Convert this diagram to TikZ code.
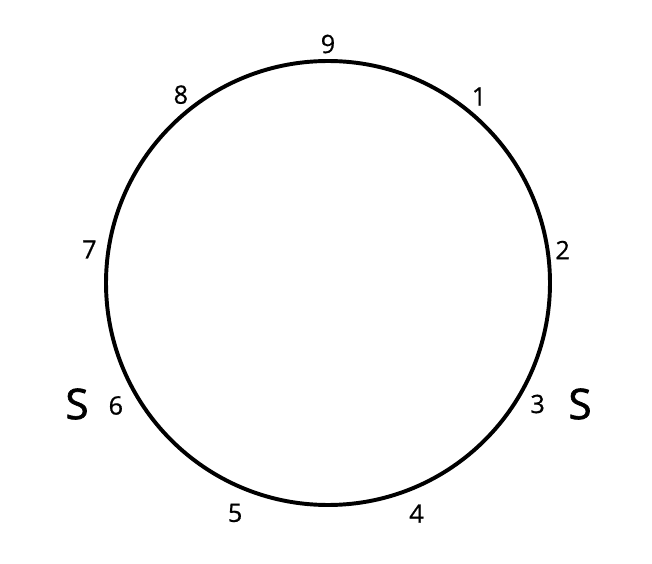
\documentclass[tikz,border=0pt]{standalone}
\usepackage{fontspec}
\setmainfont{Open Sans}
\newfontfamily\sidefont[FakeBold=1.6]{Open Sans}
\newfontfamily\numfont[FakeBold=0.6]{Open Sans}
\usetikzlibrary{positioning,calc}

\begin{document}
\begin{tikzpicture}[x=0.025cm,y=0.025cm]
  \tikzset{num/.style={font=\numfont\fontsize{18}{20}\selectfont,inner sep=0pt},
           side/.style={font=\sidefont\fontsize{30}{32}\selectfont,inner sep=0pt}}
  \useasboundingbox (0,0) rectangle (652,-564);
  \coordinate (c) at (328,-283);
  \draw[line width=2.8pt] (c) circle (222);
  \foreach \n/\a/\r in {9/90/239,1/51/240,2/8/237,3/-30/242,4/-69/247,5/-112/248,6/-150/245,7/172/241,8/128/239}
     \node[num] (l\n) at ($(c)+(\a:\r)$) {\n};
  \node[side] (sl) at (77,-404) {S};
  \node[side] (sr) at (580,-404) {S};
\end{tikzpicture}
\end{document}
